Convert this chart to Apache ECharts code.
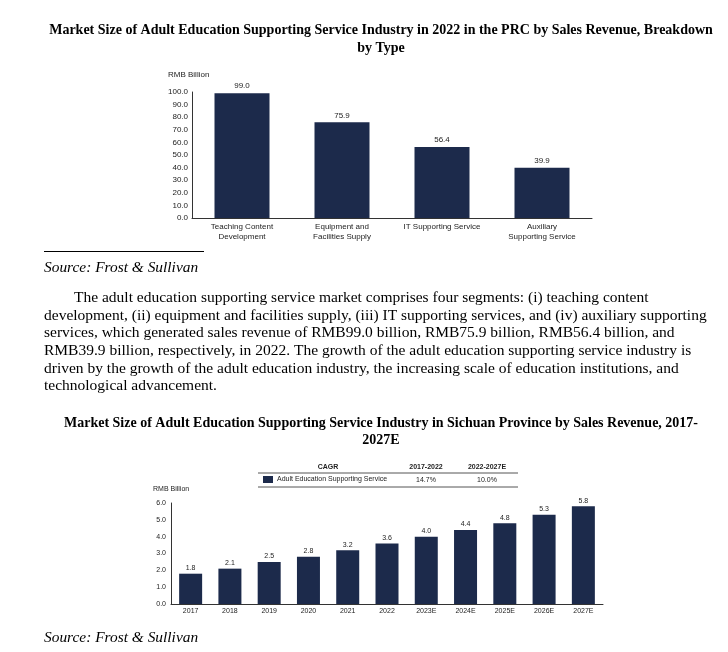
<!DOCTYPE html>
<html><head><meta charset="utf-8">
<script src="https://cdn.jsdelivr.net/npm/echarts@6/dist/echarts.min.js"></script>
<style>html,body{margin:0;padding:0;background:#fff}#c{width:728px;height:652px}</style>
</head><body><div id="c"></div>
<script>
const typeCategories = ['Teaching Content\nDevelopment','Equipment and\nFacilities Supply','IT Supporting Service','Auxiliary\nSupporting Service'];
const typeValues = [99.0, 75.9, 56.4, 39.9];
const yearCategories = ['2017','2018','2019','2020','2021','2022','2023E','2024E','2025E','2026E','2027E'];
const yearValues = [1.8, 2.1, 2.5, 2.8, 3.2, 3.6, 4.0, 4.4, 4.8, 5.3, 5.8];
const cagrHeaders = ['CAGR','2017-2022','2022-2027E'];
const cagrRow = ['Adult Education Supporting Service','14.7%','10.0%'];
const title1 = ['Market Size of Adult Education Supporting Service Industry in 2022 in the PRC by Sales Revenue, Breakdown','by Type'];
const title2 = ['Market Size of Adult Education Supporting Service Industry in Sichuan Province by Sales Revenue, 2017-','2027E'];
const paragraph = [
 'The adult education supporting service market comprises four segments: (i) teaching content',
 'development, (ii) equipment and facilities supply, (iii) IT supporting services, and (iv) auxiliary supporting',
 'services, which generated sales revenue of RMB99.0 billion, RMB75.9 billion, RMB56.4 billion, and',
 'RMB39.9 billion, respectively, in 2022. The growth of the adult education supporting service industry is',
 'driven by the growth of the adult education industry, the increasing scale of education institutions, and',
 'technological advancement.'
];
const sourceText = 'Source: Frost & Sullivan';

const BAR = '#1c2a4b';
const serif = '"Liberation Serif","Times New Roman",serif';
const sans = '"Liberation Sans",Arial,sans-serif';

const g = [];
function txt(x,y,t,o,sx){ g.push({type:'text',x:x,y:y,scaleX:sx||1,style:Object.assign({text:t,fill:'#000',font:'14px '+serif,textVerticalAlign:'middle'},o||{})}); }
function line(x1,y1,x2,y2,w,c){ g.push({type:'line',shape:{x1:x1,y1:y1,x2:x2,y2:y2},style:{stroke:c||'#000',lineWidth:w||1}}); }

title1.forEach((t,i)=>txt(381,30+i*18,t,{font:'bold 14px '+serif,textAlign:'center'}));
txt(168,75,'RMB Billion',{font:'8px '+sans,fill:'#222'});
line(44,251.5,204,251.5,1,'#000');
txt(44,268,sourceText,{font:'italic 14px '+serif},1.1);
paragraph.forEach((t,i)=>txt(i===0?74:44,298.5+i*17.6,t,{font:'14px '+serif},1.107));
title2.forEach((t,i)=>txt(381,423.5+i*17,t,{font:'bold 14px '+serif,textAlign:'center'}));
// CAGR table
txt(328,467,cagrHeaders[0],{font:'bold 7px '+sans,textAlign:'center',fill:'#222'});
txt(426,467,cagrHeaders[1],{font:'bold 7px '+sans,textAlign:'center',fill:'#222'});
txt(487,467,cagrHeaders[2],{font:'bold 7px '+sans,textAlign:'center',fill:'#222'});
line(258,473,518,473,1,'#555');
g.push({type:'rect',shape:{x:263,y:476,width:10,height:7},style:{fill:BAR}});
txt(277,479.5,cagrRow[0],{font:'7px '+sans,fill:'#222'});
txt(426,480,cagrRow[1],{font:'7px '+sans,textAlign:'center',fill:'#222'});
txt(487,480,cagrRow[2],{font:'7px '+sans,textAlign:'center',fill:'#222'});
line(258,487,518,487,1,'#555');
txt(153,489,'RMB Billion',{font:'7px '+sans,fill:'#222'});
txt(44,638,sourceText,{font:'italic 14px '+serif},1.1);

const chart = echarts.init(document.getElementById('c'),null,{renderer:'canvas'});
chart.setOption({
  animation:false,
  backgroundColor:'#fff',
  grid:[
    {left:192,right:136,top:92,bottom:434},
    {left:171,right:125,top:503,bottom:48}
  ],
  xAxis:[
    {type:'category',gridIndex:0,data:typeCategories,axisTick:{show:false},
     axisLine:{lineStyle:{color:'#333',width:1}},
     axisLabel:{color:'#222',fontSize:8,fontFamily:sans,lineHeight:10,margin:4,interval:0}},
    {type:'category',gridIndex:1,data:yearCategories,axisTick:{show:false},
     axisLine:{lineStyle:{color:'#333',width:1}},
     axisLabel:{color:'#222',fontSize:7,fontFamily:sans,margin:4,interval:0}}
  ],
  yAxis:[
    {type:'value',gridIndex:0,min:0,max:100,interval:10,splitLine:{show:false},
     axisLine:{show:true,lineStyle:{color:'#333'}},axisTick:{show:false},
     axisLabel:{color:'#222',fontSize:8,fontFamily:sans,margin:4,formatter:v=>v.toFixed(1)}},
    {type:'value',gridIndex:1,min:0,max:6,interval:1,splitLine:{show:false},
     axisLine:{show:true,lineStyle:{color:'#333'}},axisTick:{show:false},
     axisLabel:{color:'#222',fontSize:7,fontFamily:sans,margin:5,formatter:v=>v.toFixed(1)}}
  ],
  series:[
    {type:'bar',xAxisIndex:0,yAxisIndex:0,data:typeValues,barWidth:55,itemStyle:{color:BAR},
     label:{show:true,position:'top',distance:3,color:'#222',fontSize:8,fontFamily:sans,formatter:p=>p.value.toFixed(1)}},
    {type:'bar',xAxisIndex:1,yAxisIndex:1,data:yearValues,barWidth:23,itemStyle:{color:BAR},
     label:{show:true,position:'top',distance:2,color:'#222',fontSize:7,fontFamily:sans,formatter:p=>p.value.toFixed(1)}}
  ],
  graphic:g
});
</script></body></html>
